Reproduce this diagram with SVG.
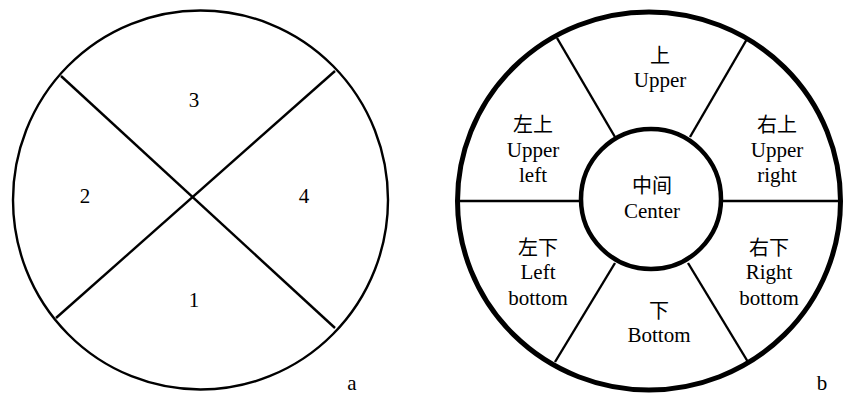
<svg xmlns="http://www.w3.org/2000/svg" width="844" height="394" viewBox="0 0 844 394">
<style>
.bg{fill:#fff}
.thin{fill:none;stroke:#000;stroke-width:2.4}
.thick{fill:#fff;stroke:#000;stroke-width:5}
.mid{fill:#fff;stroke:#000;stroke-width:4.5}
.t{font-family:"Liberation Serif","Noto Sans CJK SC",serif;font-size:21px;fill:#000;text-anchor:middle}
.c{font-family:"Noto Sans CJK SC","Liberation Serif",sans-serif;font-size:20px;fill:#000;text-anchor:middle}
</style>
<rect class="bg" x="0" y="0" width="844" height="394"/>
<g id="panel-a">
  <ellipse id="a-circle" class="thin" cx="200.5" cy="200" rx="187.5" ry="189.5"/>
  <g id="a-lines">
    <line class="thin" x1="61" y1="76" x2="335" y2="328"/>
    <line class="thin" x1="335" y1="71" x2="56" y2="318"/>
  </g>
  <g id="a-1"><text class="t" x="194" y="307">1</text></g>
  <g id="a-2"><text class="t" x="85" y="203">2</text></g>
  <g id="a-3"><text class="t" x="194" y="107">3</text></g>
  <g id="a-4"><text class="t" x="304" y="203">4</text></g>
  <text class="t" x="352" y="390">a</text>
</g>
<g id="panel-b">
  <ellipse id="b-outer" class="thick" cx="649" cy="201" rx="191.5" ry="189"/>
  <g id="b-spokes">
    <line class="thin" x1="457" y1="201" x2="582" y2="201"/>
    <line class="thin" x1="720" y1="201" x2="841" y2="201"/>
    <line class="thin" x1="557" y1="38" x2="615" y2="137"/>
    <line class="thin" x1="747" y1="39" x2="690" y2="137"/>
    <line class="thin" x1="615" y1="263" x2="555" y2="362"/>
    <line class="thin" x1="688" y1="263" x2="748" y2="362"/>
  </g>
  <g id="b-center">
    <circle class="mid" cx="651" cy="199" r="70"/>
    <text class="c" x="652" y="193">中间</text>
    <text class="t" x="652" y="218">Center</text>
  </g>
  <g id="b-upper">
    <text class="c" x="660" y="63">上</text>
    <text class="t" x="660" y="87">Upper</text>
  </g>
  <g id="b-upper-left">
    <text class="c" x="533" y="132">左上</text>
    <text class="t" x="533" y="157">Upper</text>
    <text class="t" x="533" y="182">left</text>
  </g>
  <g id="b-upper-right">
    <text class="c" x="777" y="132">右上</text>
    <text class="t" x="777" y="157">Upper</text>
    <text class="t" x="777" y="182">right</text>
  </g>
  <g id="b-left-bottom">
    <text class="c" x="538" y="255">左下</text>
    <text class="t" x="538" y="279">Left</text>
    <text class="t" x="538" y="305">bottom</text>
  </g>
  <g id="b-right-bottom">
    <text class="c" x="769" y="255">右下</text>
    <text class="t" x="769" y="279">Right</text>
    <text class="t" x="769" y="305">bottom</text>
  </g>
  <g id="b-bottom">
    <text class="c" x="659" y="318">下</text>
    <text class="t" x="659" y="342">Bottom</text>
  </g>
  <text class="t" x="822" y="390">b</text>
</g>
</svg>
